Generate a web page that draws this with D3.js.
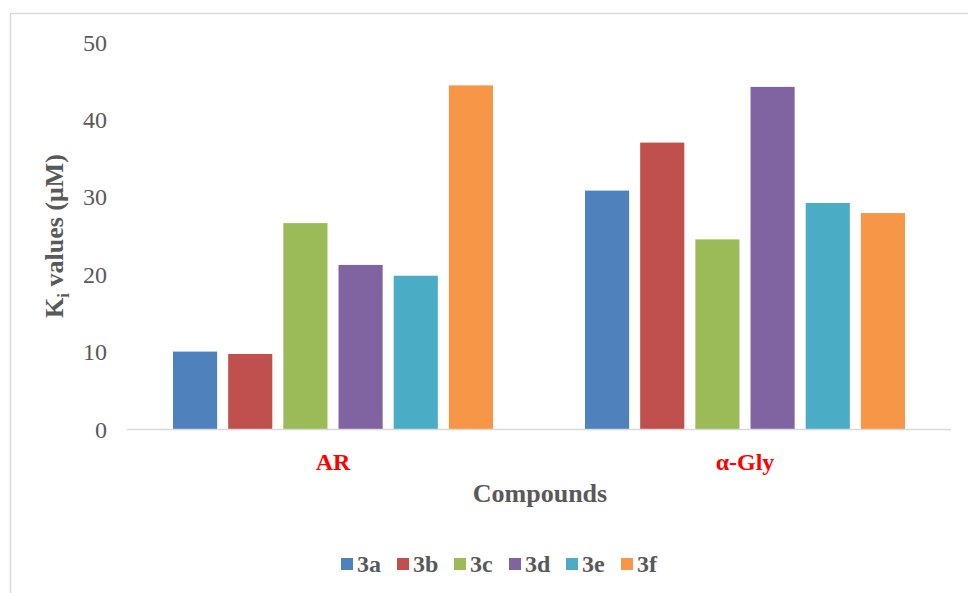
<!DOCTYPE html>
<html><head><meta charset="utf-8">
<script src="https://cdn.jsdelivr.net/npm/d3@7"></script>
<style>body{margin:0;background:#fff}svg{display:block}
svg text{font-family:"Liberation Serif","Times New Roman",Times,"DejaVu Serif",serif;}</style>
</head><body>
<svg id="c" width="968" height="593"></svg>
<script>
const categories = ["AR", "α-Gly"];
const seriesNames = ["3a", "3b", "3c", "3d", "3e", "3f"];
const seriesColors = ["#4F81BD", "#C0504D", "#9BBB59", "#8064A2", "#4BACC6", "#F79646"];
const valuesAR = [10.0, 9.7, 26.6, 21.2, 19.8, 44.4];
const valuesGly = [30.8, 37.0, 24.5, 44.2, 29.2, 27.9];
const yTicks = [0, 10, 20, 30, 40, 50];

(function () {
const svg = d3.select("#c");
const gray = "#595959";

// chart border
svg.append("rect").attr("x", 10.5).attr("y", 13.5).attr("width", 970).attr("height", 600)
  .attr("fill", "none").attr("stroke", "#d9d9d9").attr("stroke-width", 1.5);

const pL = 127, pR = 951, pT = 42, pB = 429;
const y = d3.scaleLinear().domain([0, 50]).range([pB, pT]);
const x0 = d3.scaleBand().domain(categories).range([pL, pR]);
const gw = x0.bandwidth();
const x1 = d3.scaleBand().domain(seriesNames).range([46, gw - 46]).paddingInner(0.2);

const data = categories.map((c, i) => ({cat: c, vals: i === 0 ? valuesAR : valuesGly}));

// y axis labels
const yAxis = d3.axisLeft(y).tickValues(yTicks).tickSize(0).tickPadding(0);
const ga = svg.append("g").attr("transform", `translate(107,0)`).call(yAxis);
ga.select(".domain").remove();
ga.attr("font-family", null).attr("font-size", null);
ga.selectAll("text").style("font-size", "24px").attr("fill", gray).attr("dy", "0.34em");

// bars
const groups = svg.selectAll("g.grp").data(data).join("g").attr("class", "grp")
  .attr("transform", d => `translate(${x0(d.cat)},0)`);
groups.selectAll("rect").data(d => d.vals.map((v, i) => ({s: seriesNames[i], v, c: seriesColors[i]})))
  .join("rect")
  .attr("x", d => x1(d.s)).attr("width", x1.bandwidth())
  .attr("y", d => y(d.v)).attr("height", d => y(0) - y(d.v))
  .attr("fill", d => d.c);

// x axis line
svg.append("line").attr("x1", pL).attr("x2", pR).attr("y1", pB + 0.5).attr("y2", pB + 0.5)
  .attr("stroke", "#d9d9d9").attr("stroke-width", 1.5);

// category labels
const xAxis = d3.axisBottom(x0).tickSize(0).tickPadding(0);
const gx = svg.append("g").attr("transform", `translate(0,${pB})`).call(xAxis);
gx.select(".domain").remove();
gx.attr("font-family", null).attr("font-size", null);
gx.selectAll("text").style("font-size", "24px").style("font-weight", "bold")
  .attr("fill", "#FF0000").attr("y", 0).attr("dy", 0).attr("transform", "translate(0,41)");

// x title
svg.append("text").attr("x", (pL + pR) / 2 + 1).attr("y", 502).attr("text-anchor", "middle")
  .style("font-size", "26px").style("font-weight", "bold").attr("fill", gray)
  .text("Compounds");

// y title
const yt = svg.append("text").attr("transform", "translate(63,236) rotate(-90)").attr("text-anchor", "middle")
  .style("font-size", "26px").style("font-weight", "bold").attr("fill", gray);
yt.append("tspan").text("K");
yt.append("tspan").style("font-size", "17px").attr("dy", 6).text("i");
yt.append("tspan").attr("dy", -6).text(" values (μM)");

// legend
const legX = [341, 397, 454, 509, 566, 621];
const lg = svg.selectAll("g.leg").data(seriesNames).join("g").attr("class", "leg")
  .attr("transform", (d, i) => `translate(${legX[i]},558)`);
lg.append("rect").attr("width", 12).attr("height", 12).attr("fill", (d, i) => seriesColors[i]);
lg.append("text").attr("x", 16).attr("y", 14).style("font-size", "24px")
  .style("font-weight", "bold").attr("fill", gray).text(d => d);
})();
</script>
</body></html>
